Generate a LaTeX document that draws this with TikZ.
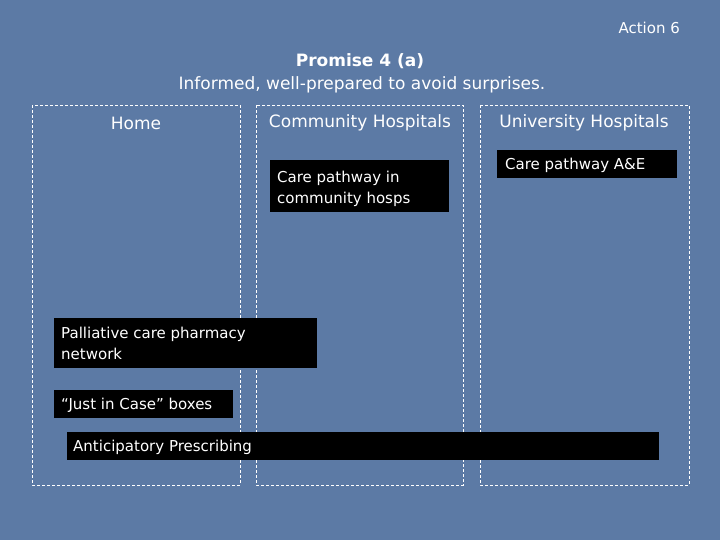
\documentclass[tikz,border=0pt]{standalone}
\usepackage{fontspec}
\setmainfont{DejaVu Sans}
\definecolor{bg}{RGB}{92,122,165}
\tikzset{
 col/.style={draw=white, dashed, line width=0.8pt, dash pattern=on 3pt off 2pt},
 hd/.style={text=white, font=\fontsize{17}{20}\selectfont, inner sep=0pt},
 bt/.style={text=white, font=\fontsize{15}{21}\selectfont, align=left, inner sep=0pt, anchor=north west}
}
\begin{document}
\begin{tikzpicture}[x=1pt,y=-1pt]
\fill[bg] (0,0) rectangle (720,540);
\useasboundingbox (0,0) rectangle (720,540);
\node[hd, anchor=north east, font=\fontsize{15}{18}\selectfont] (act) at (680,22) {Action 6};
\node[hd, font=\bfseries\fontsize{17}{20}\selectfont] (prom) at (360,61) {Promise 4 (a)};
\node[hd] (inf) at (362,85) {Informed, well-prepared to avoid surprises.};
\draw[col] (32,105) rectangle (240,485);
\draw[col] (256,105) rectangle (463,485);
\draw[col] (480,105) rectangle (689,485);
\node[hd] (home) at (136,123) {Home};
\node[hd] (comm) at (360,123) {Community Hospitals};
\node[hd] (univ) at (584,123) {University Hospitals};
\fill[black] (270,160) rectangle (449,212);
\node[bt] (b1) at (277,171) {Care pathway in\\community hosps};
\fill[black] (497,150) rectangle (677,178);
\node[bt] (b2) at (505,158) {Care pathway A\&E};
\fill[black] (54,318) rectangle (317,368);
\node[bt] (b3) at (61,327) {Palliative care pharmacy\\network};
\fill[black] (54,390) rectangle (233,418);
\node[bt] (b4) at (61,398) {“Just in Case” boxes};
\fill[black] (67,432) rectangle (659,460);
\node[bt] (b5) at (73,440) {Anticipatory Prescribing};
\end{tikzpicture}
\end{document}
